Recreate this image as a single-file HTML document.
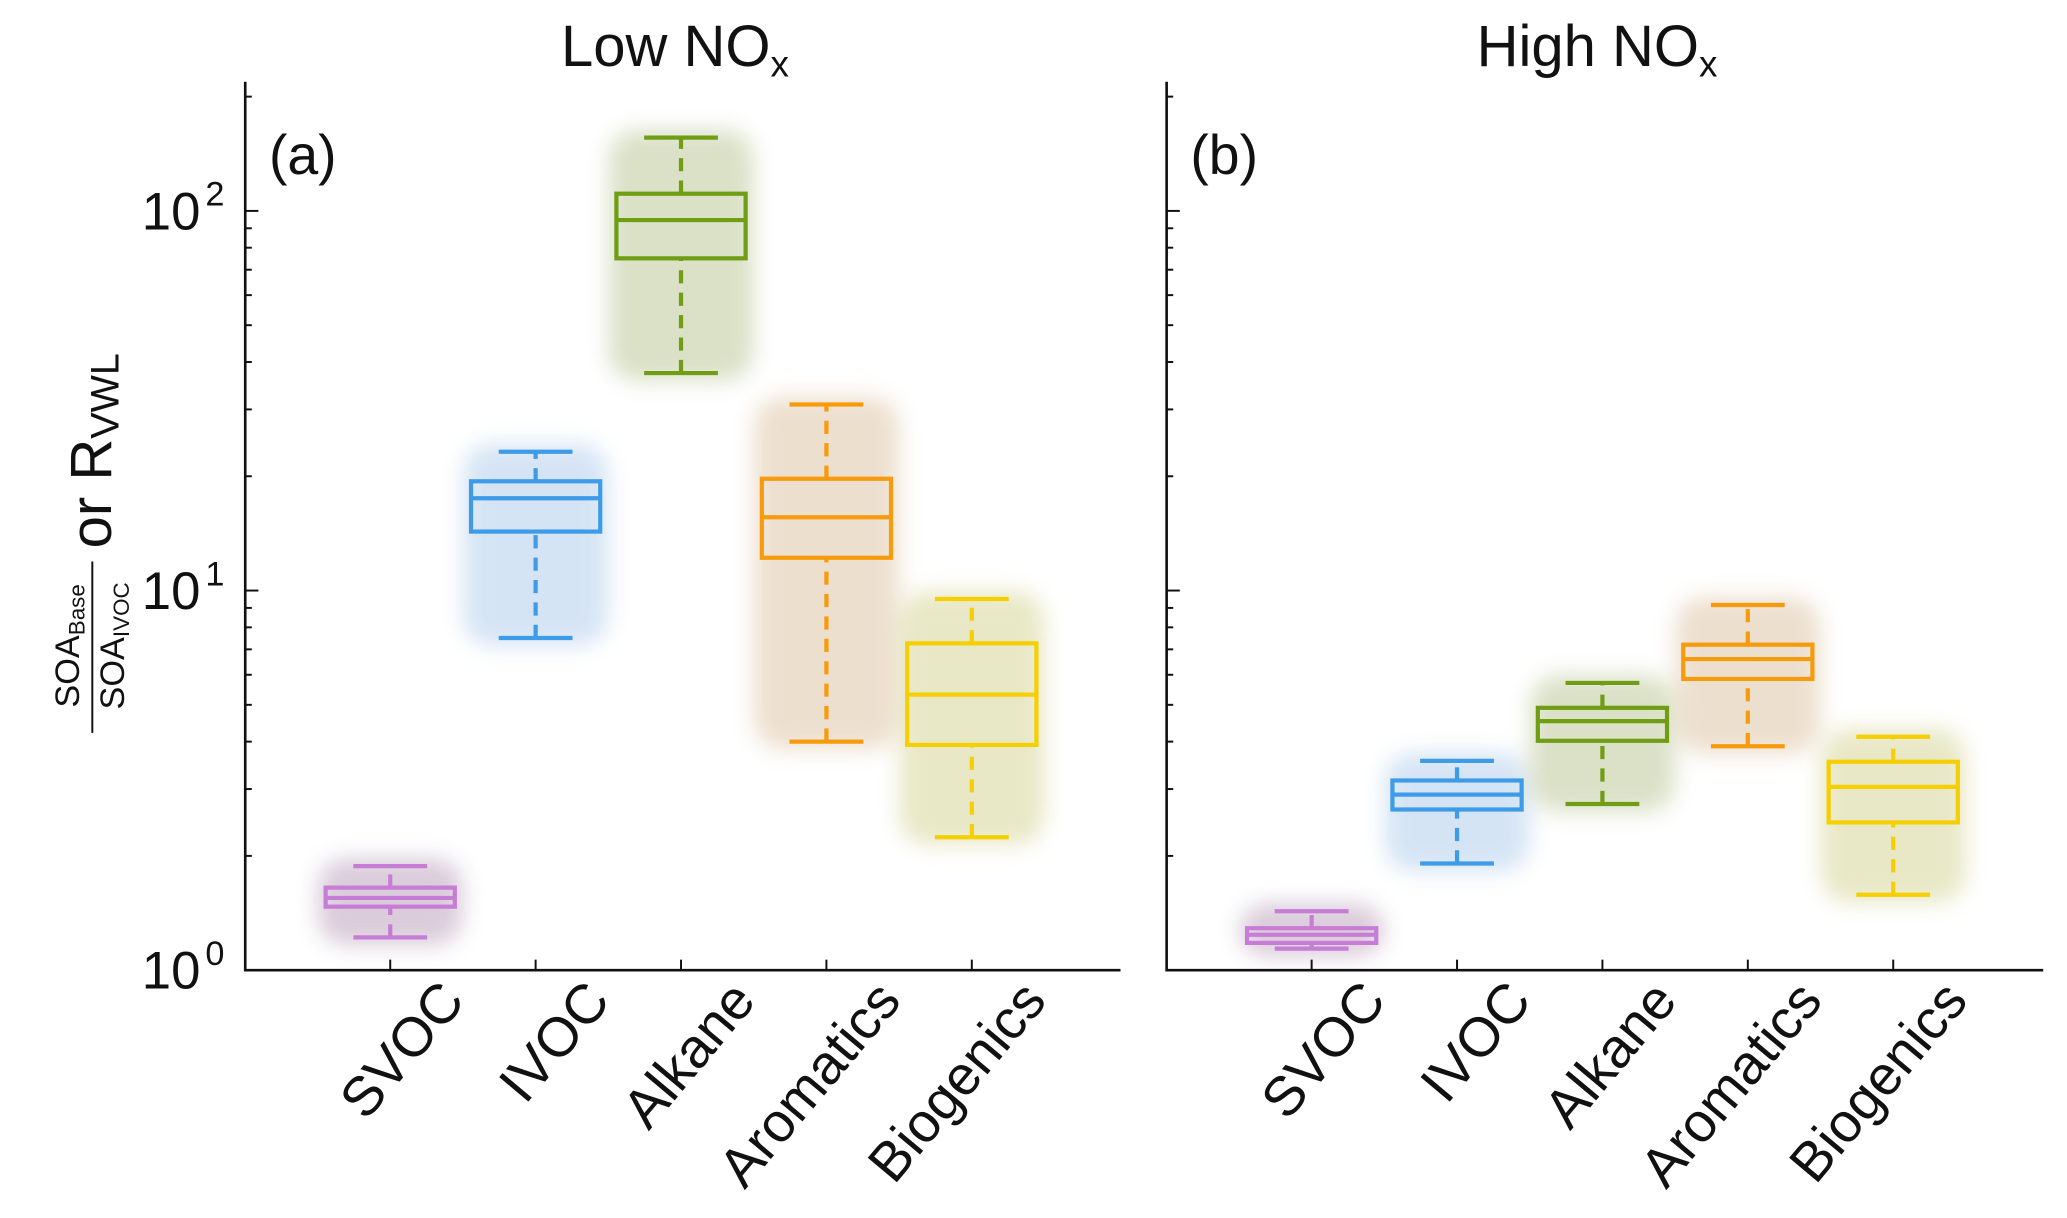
<!DOCTYPE html>
<html><head><meta charset="utf-8"><style>
html,body{margin:0;padding:0;background:#fff}
svg{display:block}
text{font-family:"Liberation Sans",Arial,sans-serif;fill:#111}
</style></head><body>
<svg id="chart" width="2067" height="1218" viewBox="0 0 1568 924" xmlns="http://www.w3.org/2000/svg">
<defs><filter id="blur" x="-30%" y="-30%" width="160%" height="160%"><feGaussianBlur stdDeviation="8"/></filter></defs>
<g id="root"></g>
</svg>
<script>
const categories = ["SVOC","IVOC","Alkane","Aromatics","Biogenics"];
const colors = ["#c77dd6","#3d9be9","#6f9e14","#f79b0c","#f5cf00"];
const cloudColors = ["#a887a8","#9cc0e6","#a8b87a","#d4b48c","#c9c878"];
const panelTitles = ["Low NO","High NO"];
const panelTags = ["(a)","(b)"];
// [low whisker, q1, median, q3, high whisker]
const lowNOx = [
  [1.22,1.47,1.55,1.65,1.88],
  [7.5,14.3,17.5,19.4,23.2],
  [37.4,75,94.6,111,156],
  [4.0,12.2,15.6,19.7,30.9],
  [2.24,3.92,5.32,7.26,9.5]
];
const highNOx = [
  [1.14,1.18,1.24,1.29,1.43],
  [1.91,2.65,2.9,3.16,3.56],
  [2.74,4.02,4.53,4.91,5.71],
  [3.89,5.85,6.6,7.2,9.16],
  [1.58,2.45,3.04,3.54,4.12]
];
const yTicks = [1,10,100];
const yTickExp = ["0","1","2"];

const NS="http://www.w3.org/2000/svg";
const root=document.getElementById('root');
function mk(tag,attrs,parent){const e=document.createElementNS(NS,tag);for(const k in attrs)e.setAttribute(k,attrs[k]);(parent||root).appendChild(e);return e;}
const yBottom=736, decade=288, yTop=62;
function yScale(v){return yBottom-decade*Math.log10(v);}
const panels=[{x0:186,x1:850,data:lowNOx,cx0:296},{x0:885,x1:1550,data:highNOx,cx0:995}];
const step=110.3, boxW=98, capW=56;

panels.forEach((p,pi)=>{
  const g=mk('g',{});
  
  
  const xScale=i=>p.cx0+i*step;
  const t=mk('text',{x:(p.x0+p.x1)/2-6,y:50,'font-size':44,'text-anchor':'middle'},g);
  
  
  t.textContent=panelTitles[pi];
  const ts=mk('tspan',{'font-size':28,dy:8},t); ts.textContent='x';
  const tag=mk('text',{x:p.x0+18,y:132,'font-size':42},g);
  
  
  tag.textContent=panelTags[pi];
  p.data.forEach((d,i)=>{
    const cx=xScale(i);
    const c=mk('rect',{x:cx-55,y:yScale(d[4])-6,width:110,height:yScale(d[0])-yScale(d[4])+12,rx:22,fill:cloudColors[i],opacity:0.42,filter:'url(#blur)'},g);
    
    
  });
  const ax=mk('path',{d:`M${p.x0},${yTop}V${yBottom}H${p.x1}`,stroke:'#111','stroke-width':2,fill:'none'},g);
  
  
  for(let dcd=0;dcd<3;dcd++){
    for(let m=1;m<=9;m++){
      const v=m*Math.pow(10,dcd);
      const y=yScale(v); if(y<yTop) continue;
      const len=m===1?10:5;
      const tk=mk('line',{x1:p.x0,x2:p.x0+len,y1:y,y2:y,stroke:'#111','stroke-width':1.5},g);
      
      
    }
  }
  if(pi===0){
    yTicks.forEach((v,k)=>{
      const tl=mk('text',{x:p.x0-34,y:yScale(v)+14,'font-size':40,'text-anchor':'end'},g);
      
      
      tl.textContent='10';
      const st=mk('text',{x:p.x0-23,y:yScale(v)-4,'font-size':26,'text-anchor':'middle'},g);
      
      
      st.textContent=yTickExp[k];
    });
  }
  categories.forEach((c,i)=>{
    const cx=xScale(i);
    const tk=mk('line',{x1:cx,x2:cx,y1:yBottom,y2:yBottom-8,stroke:'#111','stroke-width':1.5},g);
    
    
    const lx=cx+58, ly=yBottom+24;
    const lb=mk('text',{x:lx,y:ly,'font-size':42,'text-anchor':'end',transform:`rotate(-50 ${lx} ${ly})`},g);
    
    
    lb.textContent=c;
  });
  p.data.forEach((d,i)=>{
    const cx=xScale(i), col=colors[i];
    const bg=mk('g',{stroke:col,'stroke-width':3.2,fill:'none'},g);
    
    
    mk('line',{x1:cx,x2:cx,y1:yScale(d[0]),y2:yScale(d[1]),'stroke-dasharray':'10,7'},bg);
    mk('line',{x1:cx,x2:cx,y1:yScale(d[3]),y2:yScale(d[4]),'stroke-dasharray':'10,7'},bg);
    mk('line',{x1:cx-capW/2,x2:cx+capW/2,y1:yScale(d[0]),y2:yScale(d[0])},bg);
    mk('line',{x1:cx-capW/2,x2:cx+capW/2,y1:yScale(d[4]),y2:yScale(d[4])},bg);
    mk('rect',{x:cx-boxW/2,y:yScale(d[3]),width:boxW,height:yScale(d[1])-yScale(d[3])},bg);
    mk('line',{x1:cx-boxW/2,x2:cx+boxW/2,y1:yScale(d[2]),y2:yScale(d[2])},bg);
  });
});
const yl=mk('g',{transform:'translate(70,430) rotate(-90)'});


const n=mk('text',{x:-60,y:-10,'font-size':26,'text-anchor':'middle'},yl); n.textContent='SOA';
mk('tspan',{'font-size':17,dy:4},n).textContent='Base';
mk('line',{x1:-126,x2:4,y1:0,y2:0,stroke:'#111','stroke-width':1.5},yl);
const dn=mk('text',{x:-60,y:24,'font-size':26,'text-anchor':'middle'},yl); dn.textContent='SOA';
mk('tspan',{'font-size':17,dy:4},dn).textContent='IVOC';
const r=mk('text',{x:14,y:14,'font-size':44},yl); r.textContent='or R';
mk('tspan',{'font-size':30,dy:6},r).textContent='VWL';
</script>
</body></html>
